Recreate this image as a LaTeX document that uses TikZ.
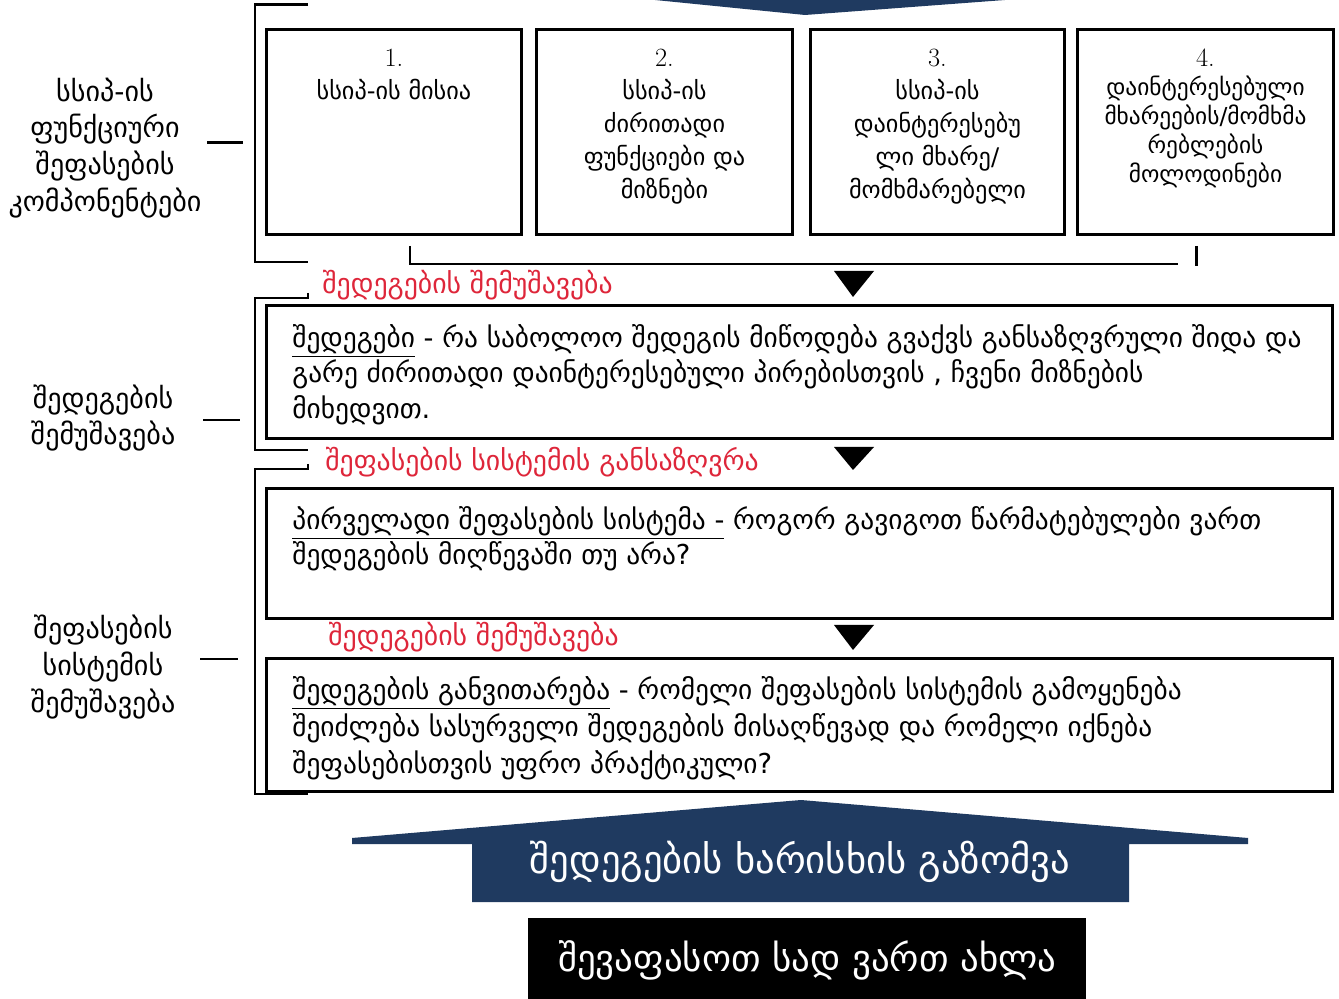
\documentclass[tikz,border=0pt]{standalone}
\usepackage{fontspec}
\usepackage{tikz}
\newfontfamily\geo{DejaVu Sans}
\definecolor{navy}{RGB}{31,58,96}
\definecolor{redtxt}{RGB}{222,38,58}
\tikzset{
  frame/.style={draw,rectangle,line width=1.7pt,anchor=north west,inner sep=0pt},
  brk/.style={line width=1.7pt},
  boxtxt/.style={align=center,anchor=north,inner sep=0pt,font=\geo\fontsize{13.8}{18.7}\selectfont},
  sidelbl/.style={align=center,inner sep=0pt,font=\geo\fontsize{16}{21}\selectfont},
  redlbl/.style={anchor=west,inner sep=0pt,text=redtxt,font=\geo\fontsize{15.8}{18}\selectfont},
  bodytxt/.style={align=left,anchor=north west,inner sep=0pt,font=\geo\fontsize{15.6}{20.2}\selectfont},
  num/.style={}
}
\newcommand{\boxnum}[1]{{\rmfamily\fontsize{15}{18}\selectfont #1}}
\begin{document}
\begin{tikzpicture}[x=0.02cm,y=-0.02cm]
		\useasboundingbox (0,0) rectangle (1339,999);
		%top arrow (cut by the border)
		\fill[navy] (655,0) -- (1005,0) -- (805,15) -- cycle;
		%\node[draw,options] (nodeName) at (x,y) {text};
		\node[frame,minimum width=5.1cm,minimum height=4.1cm] (Mission) at (265,28) {};
		\node[frame,minimum width=5.12cm,minimum height=4.1cm] (Functions) at (535,28) {};
		\node[frame,minimum width=5.08cm,minimum height=4.1cm] (Party) at (809,28) {};
		\node[frame,minimum width=5.12cm,minimum height=4.1cm] (Expect) at (1076,28) {};
		\node[boxtxt] (MissionTxt) at (Mission.north) [yshift=-0.42cm] {\boxnum{1.}\\ სსიპ-ის მისია};
		\node[boxtxt] (FunctionsTxt) at (Functions.north) [yshift=-0.42cm] {\boxnum{2.}\\ სსიპ-ის\\ ძირითადი\\ ფუნქციები და\\ მიზნები};
		\node[boxtxt] (PartyTxt) at (Party.north) [yshift=-0.42cm] {\boxnum{3.}\\ სსიპ-ის\\ დაინტერესებუ\\ ლი მხარე/\\ მომხმარებელი};
		\node[boxtxt,font=\geo\fontsize{13.3}{16.5}\selectfont] (ExpectTxt) at (Expect.north) [yshift=-0.42cm] {\boxnum{4.}\\ დაინტერესებული\\ მხარეების/მომხმა\\ რებლების\\ მოლოდინები};
		%side labels
		\node[sidelbl] (SideA) at (105,148) {სსიპ-ის\\ ფუნქციური\\ შეფასების\\ კომპონენტები};
		\node[sidelbl] (SideB) at (103,418) {შედეგების\\ შემუშავება};
		\node[sidelbl] (SideC) at (103,667) {შეფასების\\ სისტემის\\ შემუშავება};
		\coordinate (BrA) at (243,143);
		\coordinate (BrB) at (240,420);
		\coordinate (BrC) at (238,659);
		\draw[brk] (207,143) -- (BrA);
		\draw[brk] (203,420) -- (BrB);
		\draw[brk] (200,659) -- (BrC);
		%brackets
		\draw[brk] (308,5) -- (255,5) -- (255,262) -- (308,262);
		\draw[brk] (410,246) -- (410,264) -- (1178,264);
		\draw[brk] (1196,246) -- (1196,266);
		\draw[brk] (308,293) -- (308,298) -- (255,298) -- (255,450) -- (308,450);
		\draw[brk] (308,464) -- (308,469) -- (255,469) -- (255,794) -- (308,794);
		%steps
		\node[redlbl] (StepA) at (322,285) {შედეგების შემუშავება};
		\node[redlbl] (StepB) at (325,462) {შეფასების სისტემის განსაზღვრა};
		\node[redlbl] (StepC) at (328,637) {შედეგების შემუშავება};
		\foreach \ya/\yb in {271/297,447/470,625/650}
			\fill (834,\ya) -- (874,\ya) -- (853,\yb) -- cycle;
		\node[frame,minimum width=21.32cm,minimum height=2.66cm] (Results) at (265,304) {};
		\node[frame,minimum width=21.32cm,minimum height=2.6cm] (System) at (265,487) {};
		\node[frame,minimum width=21.32cm,minimum height=2.66cm] (Develop) at (265,657) {};
		\node[bodytxt] (ResultsTxt) at (292,324) {\underline{შედეგები} - რა საბოლოო შედეგის მიწოდება გვაქვს განსაზღვრული შიდა და\\ გარე ძირითადი დაინტერესებული პირებისთვის , ჩვენი მიზნების\\ მიხედვით.};
		\node[bodytxt] (SystemTxt) at (292,506) {\underline{პირველადი შეფასების სისტემა -} როგორ გავიგოთ  წარმატებულები ვართ\\ შედეგების მიღწევაში თუ არა?};
		\node[bodytxt,font=\geo\fontsize{15.6}{21}\selectfont] (DevelopTxt) at (292,676) {\underline{შედეგების განვითარება} - რომელი შეფასების სისტემის გამოყენება\\ შეიძლება სასურველი შედეგების მისაღწევად და რომელი იქნება\\ შეფასებისთვის უფრო პრაქტიკული?};
		%bottom arrow
		\fill[navy] (352,838) -- (801,800) -- (1248,838) -- (1248,844) -- (1129,844) -- (1129,902) -- (472,902) -- (472,844) -- (352,844) -- cycle;
		\node[text=white,font=\geo\fontsize{22}{25}\selectfont] (Measure) at (800,862) {შედეგების ხარისხის გაზომვა};
		\node[fill=black,anchor=north west,minimum width=11.16cm,minimum height=1.7cm,text=white,font=\geo\fontsize{21}{24}\selectfont] (Now) at (528,918) {შევაფასოთ სად ვართ ახლა};
	\end{tikzpicture}
\end{document}
